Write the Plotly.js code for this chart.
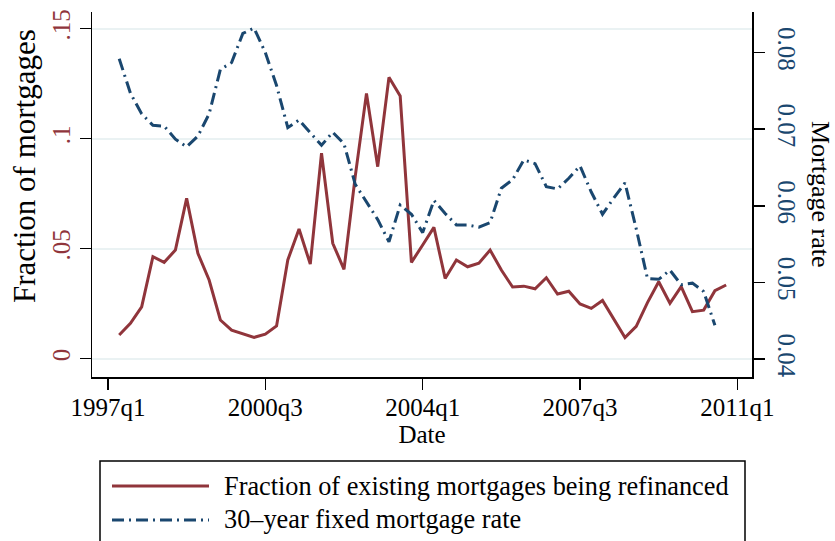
<!DOCTYPE html>
<html>
<head>
<meta charset="utf-8">
<script src="https://cdn.plot.ly/plotly-3.0.1.min.js"></script>
<style>html,body{margin:0;padding:0;background:#fff;}#chart{width:835px;height:541px;}</style>
</head>
<body>
<div id="chart"></div>
<script>
// Quarterly observations (1997q2 .. 2010q4)
const quarters = [
  "1997q2","1997q3","1997q4","1998q1","1998q2","1998q3","1998q4",
  "1999q1","1999q2","1999q3","1999q4","2000q1","2000q2","2000q3","2000q4",
  "2001q1","2001q2","2001q3","2001q4","2002q1","2002q2","2002q3","2002q4",
  "2003q1","2003q2","2003q3","2003q4","2004q1","2004q2","2004q3","2004q4",
  "2005q1","2005q2","2005q3","2005q4","2006q1","2006q2","2006q3","2006q4",
  "2007q1","2007q2","2007q3","2007q4","2008q1","2008q2","2008q3","2008q4",
  "2009q1","2009q2","2009q3","2009q4","2010q1","2010q2","2010q3","2010q4"
];
// Fraction of existing mortgages being refinanced
const refiFraction = [
  0.0108,0.0161,0.0236,0.0464,0.0438,0.0494,0.0729,
  0.0479,0.0358,0.0176,0.0130,0.0115,0.0097,0.0112,0.0149,
  0.0449,0.0590,0.0430,0.0934,0.0525,0.0406,0.0829,0.1206,
  0.0873,0.1279,0.1194,0.0438,0.0517,0.0597,0.0365,0.0449,
  0.0418,0.0434,0.0494,0.0403,0.0326,0.0330,0.0318,0.0368,
  0.0294,0.0307,0.0249,0.0229,0.0265,0.0178,0.0096,0.0147,
  0.0255,0.0350,0.0252,0.0328,0.0214,0.0221,0.0309,0.0335
];
// 30-year fixed mortgage rate (1997q2 .. 2010q3)
const mortgageRate = [
  0.0792,0.0747,0.0720,0.0705,0.0704,0.0687,0.0677,
  0.0691,0.0720,0.0778,0.0787,0.0825,0.0832,0.0800,0.0757,
  0.0702,0.0712,0.0696,0.0679,0.0696,0.0681,0.0628,0.0605,
  0.0582,0.0553,0.0601,0.0589,0.0565,0.0607,0.0590,0.0575,
  0.0575,0.0572,0.0578,0.0623,0.0634,0.0660,0.0655,0.0625,
  0.0622,0.0636,0.0652,0.0618,0.0589,0.0610,0.0630,0.0570,
  0.0505,0.0504,0.0516,0.0497,0.0499,0.0488,0.0444
];
const xTickLabels = ["1997q1","2000q3","2004q1","2007q3","2011q1"];
const leftTickVals = [0, 0.05, 0.1, 0.15];
const leftTickText = ["0", ".05", ".1", ".15"];
const rightTickVals = [0.04, 0.05, 0.06, 0.07, 0.08];
const rightTickText = ["0.04", "0.05", "0.06", "0.07", "0.08"];
const seriesNames = ["Fraction of existing mortgages being refinanced", "30\u2013year fixed mortgage rate"];

function qIndex(s) { const y = parseInt(s.slice(0, 4)); const q = parseInt(s.slice(5)); return (y - 1997) * 4 + (q - 1); }

const RED = "#90353b", NAVY = "#1a476f";
const DASH = "12px,5px,2px,5px";
const FONT = "Liberation Serif, Times New Roman, serif";

// pixel helpers for decorations (plot area: x 92..752, y 12..377)
const PL = 92, PR = 752, PT = 12, PB = 377;
const px = v => (v - PL) / (PR - PL);
const py = v => (PB - v) / (PB - PT);

const traces = [
  { x: quarters.map(qIndex), y: refiFraction, type: "scatter", mode: "lines", name: seriesNames[0],
    line: { color: RED, width: 3 }, yaxis: "y", showlegend: false },
  { x: quarters.slice(0, mortgageRate.length).map(qIndex), y: mortgageRate, type: "scatter", mode: "lines", name: seriesNames[1],
    line: { color: NAVY, width: 3, dash: DASH }, yaxis: "y2", showlegend: false }
];

const layout = {
  width: 835, height: 541,
  margin: { l: PL, r: 835 - PR, t: PT, b: 541 - PB },
  paper_bgcolor: "#fff", plot_bgcolor: "#fff",
  font: { family: FONT, size: 25, color: "#000" },
  showlegend: false,
  xaxis: {
    range: [-1.42, 57.3], tickvals: xTickLabels.map(qIndex), ticktext: xTickLabels,
    ticks: "outside", ticklen: 11, tickwidth: 1.5, tickcolor: "#000", ticklabelstandoff: -4,
    showline: true, linecolor: "#000", linewidth: 1.5, showgrid: false, zeroline: false,
    tickfont: { family: FONT, size: 25, color: "#000" },
    title: { text: "Date", font: { family: FONT, size: 25, color: "#000" }, standoff: 2 },
    automargin: false
  },
  yaxis: {
    range: [-0.0083, 0.1576], tickvals: leftTickVals, ticktext: leftTickText, tickangle: -90,
    ticks: "outside", ticklen: 11, tickwidth: 1.5, tickcolor: "#000",
    showline: true, linecolor: "#000", linewidth: 1.5,
    showgrid: true, gridcolor: "#eaf2f3", gridwidth: 2, zeroline: false,
    tickfont: { family: FONT, size: 25, color: RED }, automargin: false
  },
  yaxis2: {
    overlaying: "y", side: "right",
    range: [0.03765, 0.0853], tickvals: rightTickVals, ticktext: rightTickText, tickangle: 90,
    ticks: "outside", ticklen: 11, tickwidth: 1.5, tickcolor: "#000", ticklabelstandoff: 3,
    showline: true, linecolor: "#000", linewidth: 1.5, showgrid: false, zeroline: false,
    tickfont: { family: FONT, size: 25, color: NAVY }, automargin: false
  },
  shapes: [
    { type: "rect", xref: "paper", yref: "paper", x0: px(100), x1: px(745), y0: py(461), y1: py(600),
      line: { color: "#000", width: 1.5 }, fillcolor: "rgba(0,0,0,0)", layer: "above" },
    { type: "line", xref: "paper", yref: "paper", x0: px(112), x1: px(209), y0: py(486), y1: py(486),
      line: { color: RED, width: 3 } },
    { type: "line", xref: "paper", yref: "paper", x0: px(112), x1: px(209), y0: py(520), y1: py(520),
      line: { color: NAVY, width: 3, dash: DASH } }
  ],
  annotations: [
    { xref: "paper", yref: "paper", x: px(24), y: py(166), text: "Fraction of mortgages", textangle: -90,
      showarrow: false, xanchor: "center", yanchor: "middle", font: { family: FONT, size: 31, color: "#000" } },
    { xref: "paper", yref: "paper", x: px(820), y: py(194), text: "Mortgage rate", textangle: 90,
      showarrow: false, xanchor: "center", yanchor: "middle", font: { family: FONT, size: 26, color: "#000" } },
    { xref: "paper", yref: "paper", x: px(222), y: py(486), text: seriesNames[0],
      showarrow: false, xanchor: "left", yanchor: "middle", font: { family: FONT, size: 26.3, color: "#000" } },
    { xref: "paper", yref: "paper", x: px(222), y: py(519), text: seriesNames[1],
      showarrow: false, xanchor: "left", yanchor: "middle", font: { family: FONT, size: 26.3, color: "#000" } }
  ]
};

Plotly.newPlot("chart", traces, layout, { displayModeBar: false, staticPlot: true });
</script>
</body>
</html>
